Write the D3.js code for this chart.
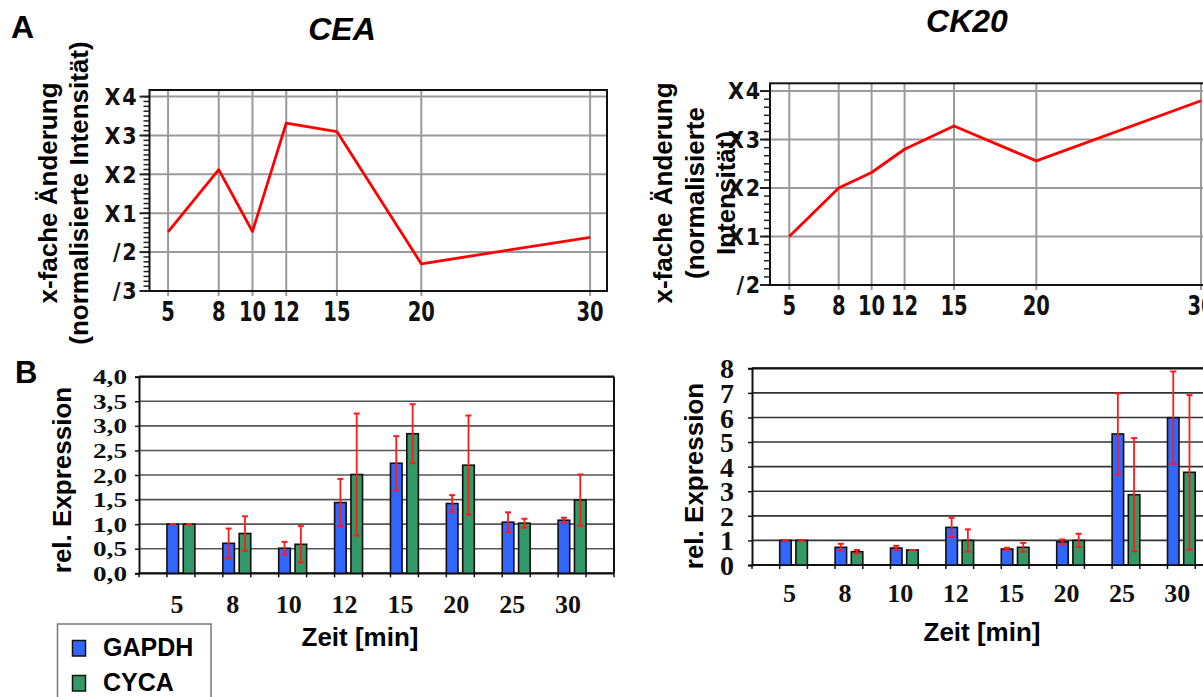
<!DOCTYPE html>
<html>
<head>
<meta charset="utf-8">
<script src="https://cdn.jsdelivr.net/npm/d3@7"></script>
<style>
  body { margin: 0; background: #fff; }
  svg { display: block; }
  .sans { font-family: "Liberation Sans", Arial, sans-serif; font-weight: bold; }
  .serif { font-family: "Liberation Serif", "Times New Roman", serif; font-weight: bold; }
  .pix { font-family: "DejaVu Sans", sans-serif; font-weight: bold; }
</style>
</head>
<body>
<div id="chart"></div>
<script>
// Panel A: fold change over time (signed scale: 0 = X1, 1 = X2, -1 = /2 ...)
var timesA = [5, 8, 10, 12, 15, 20, 30];
var ceaFold = [-0.48, 1.12, -0.47, 2.32, 2.1, -1.3, -0.62];
var ck20Fold = [0, 1.0, 1.32, 1.8, 2.28, 1.56, 2.8];
var ceaTicks = [-2, -1, 0, 1, 2, 3];
var ck20Ticks = [-1, 0, 1, 2, 3];

// Panel B: relative expression
var timesB = ["5", "8", "10", "12", "15", "20", "25", "30"];
var series = ["GAPDH", "CYCA"];
var ceaGapdh = [1.0, 0.61, 0.51, 1.44, 2.24, 1.42, 1.04, 1.08];
var ceaGapdhErr = [0, 0.3, 0.13, 0.48, 0.55, 0.17, 0.2, 0.05];
var ceaCyca = [1.0, 0.81, 0.59, 2.01, 2.84, 2.2, 1.02, 1.49];
var ceaCycaErr = [0, 0.35, 0.37, 1.24, 0.6, 1.01, 0.09, 0.52];
var ck20Gapdh = [1.0, 0.72, 0.69, 1.53, 0.65, 0.94, 5.33, 5.99];
var ck20GapdhErr = [0, 0.14, 0.09, 0.39, 0.05, 0.1, 1.65, 1.88];
var ck20Cyca = [1.0, 0.54, 0.61, 1.0, 0.72, 1.0, 2.86, 3.77];
var ck20CycaErr = [0, 0.07, 0, 0.45, 0.18, 0.27, 2.3, 3.14];
var ceaYTicks = ["0,0", "0,5", "1,0", "1,5", "2,0", "2,5", "3,0", "3,5", "4,0"];
var ck20YTicks = [0, 1, 2, 3, 4, 5, 6, 7, 8];

var colors = { GAPDH: "#3366ff", CYCA: "#339966" };

var svg = d3.select("#chart").append("svg")
  .attr("width", 1203)
  .attr("height", 697);

function foldLabel(d) {
  return d >= 0 ? "X" + (d + 1) : "/" + (1 - d);
}

function linePanel(opt) {
  var x = d3.scaleLinear().domain(opt.xDomain).range(opt.xRange);
  var y = d3.scaleLinear().domain(opt.yDomain).range(opt.yRange);
  var g = svg.append("g");

  // minor + major ticks on the left
  var step = 1 / opt.minor;
  var minorVals = d3.range(opt.ticks[0], opt.ticks[opt.ticks.length - 1] + step / 2, step);
  g.selectAll(".minor").data(minorVals).enter().append("line")
    .attr("x1", opt.xRange[0] - 6).attr("x2", opt.xRange[0])
    .attr("y1", d => y(d)).attr("y2", d => y(d))
    .attr("stroke", "#222").attr("stroke-width", 1.5);
  g.selectAll(".major").data(opt.ticks).enter().append("line")
    .attr("x1", opt.xRange[0] - 10).attr("x2", opt.xRange[0])
    .attr("y1", d => y(d)).attr("y2", d => y(d))
    .attr("stroke", "#222").attr("stroke-width", 2);

  // grid
  g.selectAll(".hgrid").data(opt.ticks).enter().append("line")
    .attr("x1", opt.xRange[0]).attr("x2", opt.xRange[1])
    .attr("y1", d => y(d)).attr("y2", d => y(d))
    .attr("stroke", "#9a9a9a").attr("stroke-width", 2);
  g.selectAll(".vgrid").data(timesA).enter().append("line")
    .attr("x1", d => x(d)).attr("x2", d => x(d))
    .attr("y1", opt.yRange[1]).attr("y2", opt.yRange[0] + 5)
    .attr("stroke", "#9a9a9a").attr("stroke-width", 2);

  // frame
  g.append("rect")
    .attr("x", opt.xRange[0]).attr("y", opt.yRange[1])
    .attr("width", opt.xRange[1] - opt.xRange[0])
    .attr("height", opt.yRange[0] - opt.yRange[1])
    .attr("fill", "none").attr("stroke", "#111").attr("stroke-width", 2);

  // tick labels (blocky condensed look)
  g.selectAll(".ylab").data(opt.ticks).enter().append("text")
    .attr("class", "pix")
    .attr("transform", d => `translate(${opt.xRange[0] - opt.labelGap}, ${y(d)}) scale(0.9, 1)`)
    .attr("dy", "0.36em")
    .attr("text-anchor", "end")
    .attr("font-size", 23)
    .attr("letter-spacing", 2)
    .attr("fill", "#111")
    .text(foldLabel);
  g.selectAll(".xlab").data(timesA).enter().append("text")
    .attr("class", "pix")
    .attr("transform", d => `translate(${x(d)}, ${opt.xLabelY}) scale(0.75, 1)`)
    .attr("text-anchor", "middle")
    .attr("font-size", 26)
    .attr("fill", "#111")
    .text(d => d);

  // data line
  var line = d3.line().x((d, i) => x(timesA[i])).y(d => y(d));
  g.append("path")
    .datum(opt.values)
    .attr("d", line)
    .attr("fill", "none")
    .attr("stroke", "#ff0000")
    .attr("stroke-width", 2.8)
    .attr("stroke-linejoin", "round");

  // title
  g.append("text")
    .attr("class", "sans")
    .attr("x", opt.titleX).attr("y", opt.titleY)
    .attr("text-anchor", "middle")
    .attr("font-size", 32)
    .attr("font-style", "italic")
    .text(opt.title);

  // y axis title (multi line, rotated)
  opt.yTitle.forEach(function (t, i) {
    g.append("text")
      .attr("class", "sans")
      .attr("transform", `translate(${opt.yTitleX[i]}, ${opt.yTitleCenter}) rotate(-90)`)
      .attr("text-anchor", "middle")
      .attr("font-size", 26)
      .text(t);
  });
}

linePanel({
  title: "CEA", titleX: 342, titleY: 40,
  xDomain: [3.9, 31], xRange: [149.5, 607],
  yDomain: [-2, 3.17], yRange: [291, 90],
  ticks: ceaTicks, minor: 8, labelGap: 11, xLabelY: 321,
  values: ceaFold,
  yTitle: ["x-fache Änderung", "(normalisierte Intensität)"],
  yTitleX: [57, 88], yTitleCenter: 193
});

linePanel({
  title: "CK20", titleX: 967, titleY: 32,
  xDomain: [3.83, 31.2], xRange: [770, 1220.8],
  yDomain: [-1, 3.16], yRange: [285, 83.3],
  ticks: ck20Ticks, minor: 6, labelGap: 8, xLabelY: 315,
  values: ck20Fold,
  yTitle: ["x-fache Änderung", "(normalisierte", "Intensität)"],
  yTitleX: [672, 704, 735], yTitleCenter: 193
});

function barPanel(opt) {
  var x0 = d3.scaleBand().domain(timesB).range(opt.xRange)
    .paddingInner(0.5).paddingOuter(0.5);
  var x1 = d3.scaleBand().domain(series).range([0, x0.bandwidth()])
    .paddingInner(0.29).paddingOuter(0);
  var y = d3.scaleLinear().domain(opt.yDomain).range(opt.yRange);
  var g = svg.append("g");

  // gridlines
  g.selectAll(".grid").data(y.ticks(opt.yTicks.length - 1)).enter().append("line")
    .attr("x1", opt.xRange[0]).attr("x2", opt.xRange[1])
    .attr("y1", d => y(d)).attr("y2", d => y(d))
    .attr("stroke", opt.gridColor).attr("stroke-width", 1.6);

  // frame top & right, axes
  g.append("line")
    .attr("x1", opt.xRange[0]).attr("x2", opt.xRange[1])
    .attr("y1", opt.yRange[1]).attr("y2", opt.yRange[1])
    .attr("stroke", "#111").attr("stroke-width", 2.2);
  g.append("line")
    .attr("x1", opt.xRange[1]).attr("x2", opt.xRange[1])
    .attr("y1", opt.yRange[1]).attr("y2", opt.yRange[0])
    .attr("stroke", "#111").attr("stroke-width", 2);

  var leftAxis = d3.axisLeft(y).ticks(opt.yTicks.length - 1).tickSize(4)
    .tickFormat((d, i) => opt.yTicks[i]);
  var yAxis = g.append("g")
    .attr("transform", `translate(${opt.xRange[0]}, 0)`)
    .call(leftAxis);
  yAxis.select(".domain").attr("stroke", "#111").attr("stroke-width", 2);
  yAxis.selectAll(".tick line").attr("stroke", "#111").attr("stroke-width", 1.5);
  yAxis.selectAll(".tick text")
    .attr("class", "serif")
    .attr("fill", "#111")
    .attr("x", -opt.yLabelGap)
    .attr("font-size", opt.yFont)
    .attr("dy", "0.34em");
  if (opt.yLabelLen) {
    yAxis.selectAll(".tick text")
      .attr("textLength", opt.yLabelLen)
      .attr("lengthAdjust", "spacingAndGlyphs");
  }

  // bottom axis with ticks at each group edge
  var edges = [opt.xRange[0], opt.xRange[1]];
  timesB.forEach(function (t) {
    edges.push(x0(t), x0(t) + x0.bandwidth());
  });
  g.selectAll(".xtick").data(edges).enter().append("line")
    .attr("x1", d => d).attr("x2", d => d)
    .attr("y1", opt.yRange[0]).attr("y2", opt.yRange[0] + 4)
    .attr("stroke", "#111").attr("stroke-width", 1.5);
  g.append("line")
    .attr("x1", opt.xRange[0]).attr("x2", opt.xRange[1])
    .attr("y1", opt.yRange[0]).attr("y2", opt.yRange[0])
    .attr("stroke", "#111").attr("stroke-width", 2.2);

  // bars
  var rows = [];
  timesB.forEach(function (t, i) {
    rows.push({ t: t, s: "GAPDH", v: opt.gapdh[i], e: opt.gapdhErr[i] });
    rows.push({ t: t, s: "CYCA", v: opt.cyca[i], e: opt.cycaErr[i] });
  });
  g.selectAll(".bar").data(rows).enter().append("rect")
    .attr("x", d => x0(d.t) + x1(d.s))
    .attr("y", d => y(d.v))
    .attr("width", x1.bandwidth())
    .attr("height", d => y(0) - y(d.v))
    .attr("fill", d => colors[d.s])
    .attr("stroke", "#111")
    .attr("stroke-width", 1.6);

  // error bars
  var eb = g.selectAll(".err").data(rows).enter().append("g")
    .attr("transform", d => `translate(${x0(d.t) + x1(d.s) + x1.bandwidth() / 2}, 0)`);
  eb.append("line")
    .attr("y1", d => y(d.v + d.e)).attr("y2", d => y(d.v - d.e))
    .attr("stroke", "#ff1a1a").attr("stroke-width", 1.8);
  eb.append("line")
    .attr("x1", -3).attr("x2", 3)
    .attr("y1", d => y(d.v + d.e)).attr("y2", d => y(d.v + d.e))
    .attr("stroke", "#ff1a1a").attr("stroke-width", 2);
  eb.append("line")
    .attr("x1", -3).attr("x2", 3)
    .attr("y1", d => y(d.v - d.e)).attr("y2", d => y(d.v - d.e))
    .attr("stroke", "#ff1a1a").attr("stroke-width", 2);

  // category labels
  g.selectAll(".xlab").data(timesB).enter().append("text")
    .attr("class", "serif")
    .attr("x", d => x0(d) + x0.bandwidth() / 2 - 4)
    .attr("y", opt.xLabelY)
    .attr("text-anchor", "middle")
    .attr("font-size", 26)
    .attr("fill", "#111")
    .text(d => d);

  // axis titles
  g.append("text")
    .attr("class", "sans")
    .attr("x", opt.xTitleX).attr("y", opt.xTitleY)
    .attr("text-anchor", "middle")
    .attr("font-size", 26)
    .text("Zeit [min]");
  g.append("text")
    .attr("class", "sans")
    .attr("transform", `translate(${opt.yTitleX}, ${opt.yTitleCenter}) rotate(-90)`)
    .attr("text-anchor", "middle")
    .attr("font-size", 26)
    .text("rel. Expression");
}

barPanel({
  xRange: [139, 614], yDomain: [0, 4], yRange: [573.3, 376.7],
  yTicks: ceaYTicks, yFont: 21, yLabelLen: 34, yLabelGap: 12, gridColor: "#555",
  gapdh: ceaGapdh, gapdhErr: ceaGapdhErr, cyca: ceaCyca, cycaErr: ceaCycaErr,
  xLabelY: 613, xTitleX: 360, xTitleY: 646, yTitleX: 71, yTitleCenter: 480
});

barPanel({
  xRange: [752, 1222.9], yDomain: [0, 8], yRange: [565, 368.3],
  yTicks: ck20YTicks, yFont: 28, yLabelLen: 0, yLabelGap: 18, gridColor: "#333",
  gapdh: ck20Gapdh, gapdhErr: ck20GapdhErr, cyca: ck20Cyca, cycaErr: ck20CycaErr,
  xLabelY: 602, xTitleX: 982, xTitleY: 641, yTitleX: 703, yTitleCenter: 476
});

// panel letters
svg.append("text").attr("class", "sans")
  .attr("x", 11).attr("y", 38).attr("font-size", 32).text("A");
svg.append("text").attr("class", "sans")
  .attr("x", 15).attr("y", 383).attr("font-size", 31).text("B");

// legend
var legend = svg.append("g");
legend.append("rect")
  .attr("x", 57.5).attr("y", 624)
  .attr("width", 153.5).attr("height", 90)
  .attr("fill", "#fff").attr("stroke", "#777").attr("stroke-width", 1.5);
var items = legend.selectAll(".item").data(series).enter().append("g")
  .attr("transform", (d, i) => `translate(72.5, ${640.5 + i * 35})`);
items.append("rect")
  .attr("width", 13).attr("height", 15.5)
  .attr("fill", d => colors[d])
  .attr("stroke", "#111").attr("stroke-width", 1.5);
items.append("text")
  .attr("class", "sans")
  .attr("x", 30.5).attr("y", 15.5)
  .attr("font-size", 25)
  .text(d => d);
</script>
</body>
</html>
